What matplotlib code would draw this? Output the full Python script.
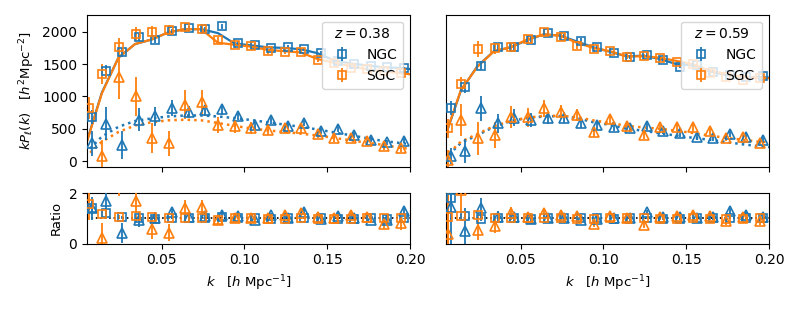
import matplotlib
matplotlib.use('Agg')
import matplotlib.pyplot as plt
from matplotlib.ticker import FormatStrFormatter

# ---------------- data ----------------
k_ngc = [0.0081, 0.0163, 0.0263, 0.0363, 0.0463, 0.0563, 0.0663, 0.0763, 0.0863, 0.0963,
         0.1063, 0.1163, 0.1263, 0.1363, 0.1463, 0.1563, 0.1663, 0.1763, 0.1863, 0.1963]
k_sgc = [0.0064, 0.0143, 0.0243, 0.0343, 0.0443, 0.0543, 0.0643, 0.0743, 0.0843, 0.0943,
         0.1043, 0.1143, 0.1243, 0.1343, 0.1443, 0.1543, 0.1643, 0.1743, 0.1843, 0.1943]
k_model = [0.004, 0.014, 0.024, 0.034, 0.044, 0.054, 0.064, 0.074, 0.084, 0.094, 0.104,
           0.114, 0.124, 0.134, 0.144, 0.154, 0.164, 0.174, 0.184, 0.194, 0.201]

# z = 0.38
P0_ngc_038 = [682, 1390, 1682, 1913, 1872, 2005, 2056, 2041, 2082, 1830, 1800, 1756, 1764, 1728, 1670, 1550, 1495, 1478, 1455, 1440]
E0_ngc_038 = [110, 90, 70, 60, 50, 45, 40, 38, 35, 32, 30, 28, 27, 26, 25, 24, 23, 22, 21, 20]
P0_sgc_038 = [826, 1349, 1769, 1964, 1995, 2026, 2067, 2041, 1872, 1800, 1780, 1697, 1690, 1690, 1563, 1511, 1447, 1420, 1395, 1370]
E0_sgc_038 = [170, 150, 140, 110, 90, 75, 65, 55, 50, 45, 42, 40, 38, 36, 34, 32, 30, 28, 27, 26]
P2_ngc_038 = [272, 580, 246, 641, 692, 820, 759, 785, 800, 700, 557, 630, 550, 590, 467, 500, 410, 333, 291, 312]
E2_ngc_038 = [200, 250, 220, 180, 150, 120, 100, 90, 80, 70, 65, 60, 55, 52, 50, 48, 46, 44, 42, 40]
P2_sgc_038 = [-400, 82, 1297, 1000, 359, 272, 872, 913, 554, 540, 513, 482, 513, 513, 423, 363, 363, 307, 227, 198]
E2_sgc_038 = [300, 250, 330, 300, 230, 200, 220, 180, 120, 100, 90, 85, 80, 75, 70, 65, 60, 58, 55, 52]
M0_ngc_038 = [230, 1060, 1600, 1810, 1880, 1990, 2040, 2040, 1980, 1820, 1790, 1760, 1750, 1730, 1670, 1560, 1510, 1480, 1450, 1440, 1420]
M0_sgc_038 = [220, 1050, 1600, 1810, 1880, 1990, 2040, 2040, 1830, 1800, 1770, 1720, 1700, 1680, 1580, 1520, 1470, 1420, 1390, 1360, 1340]
M2_ngc_038 = [120, 380, 530, 620, 660, 690, 705, 705, 690, 665, 635, 600, 565, 530, 490, 445, 400, 355, 310, 280, 260]
M2_sgc_038 = [60, 300, 450, 550, 600, 630, 640, 630, 590, 545, 505, 475, 450, 425, 395, 360, 320, 285, 250, 205, 190]
R0_ngc_038 = [1.40, 1.20, 1.04, 1.03, 0.98, 1.00, 1.00, 1.00, 1.05, 1.00, 1.00, 0.99, 1.01, 1.00, 1.00, 0.98, 0.99, 1.00, 0.97, 1.01]
RE0_ngc_038 = [0.25, 0.10, 0.05, 0.04, 0.03, 0.03, 0.02, 0.02, 0.02, 0.02, 0.02, 0.02, 0.02, 0.02, 0.02, 0.02, 0.02, 0.02, 0.02, 0.02]
R0_sgc_038 = [1.55, 1.18, 1.05, 1.08, 1.05, 1.03, 1.01, 1.00, 0.92, 1.00, 1.01, 0.99, 0.99, 1.00, 0.99, 0.99, 0.98, 1.00, 1.00, 1.01]
RE0_sgc_038 = [0.60, 0.15, 0.09, 0.06, 0.05, 0.04, 0.03, 0.03, 0.03, 0.03, 0.02, 0.02, 0.02, 0.02, 0.02, 0.02, 0.02, 0.02, 0.02, 0.02]
R2_ngc_038 = [1.40, 1.67, 0.42, 0.95, 1.02, 1.25, 1.05, 1.08, 1.15, 1.08, 0.95, 1.12, 1.00, 1.25, 0.98, 1.10, 1.02, 0.95, 0.92, 1.28]
RE2_ngc_038 = [0.45, 0.45, 0.40, 0.30, 0.22, 0.18, 0.14, 0.13, 0.12, 0.11, 0.10, 0.10, 0.10, 0.10, 0.10, 0.10, 0.11, 0.12, 0.13, 0.15]
R2_sgc_038 = [-5.0, 0.22, 2.60, 1.70, 0.58, 0.43, 1.40, 1.45, 0.95, 1.00, 1.02, 1.00, 1.12, 1.22, 1.07, 1.00, 1.12, 1.05, 0.78, 0.80]
RE2_sgc_038 = [1.0, 0.60, 0.70, 0.50, 0.38, 0.33, 0.33, 0.28, 0.20, 0.18, 0.17, 0.17, 0.17, 0.18, 0.17, 0.18, 0.18, 0.20, 0.22, 0.25]

# z = 0.59
P0_ngc_059 = [815, 1150, 1478, 1758, 1758, 1872, 1985, 1934, 1862, 1769, 1666, 1614, 1640, 1563, 1460, 1485, 1382, 1330, 1305, 1315]
E0_ngc_059 = [110, 90, 70, 55, 50, 45, 40, 38, 35, 32, 30, 28, 27, 26, 25, 24, 23, 22, 21, 20]
P0_sgc_059 = [505, 1197, 1736, 1743, 1758, 1882, 2001, 1924, 1779, 1728, 1707, 1614, 1624, 1588, 1537, 1501, 1356, 1305, 1253, 1279]
E0_sgc_059 = [150, 100, 120, 90, 75, 65, 55, 50, 45, 42, 40, 38, 36, 34, 32, 30, 28, 27, 26, 25]
P2_ngc_059 = [80, 157, 815, 583, 668, 634, 668, 668, 588, 557, 526, 505, 536, 467, 428, 380, 351, 415, 376, 325]
E2_ngc_059 = [120, 180, 190, 150, 130, 110, 95, 85, 75, 70, 65, 60, 56, 52, 50, 48, 46, 44, 42, 40]
P2_sgc_059 = [15, 634, 350, 402, 686, 675, 815, 763, 711, 454, 652, 549, 402, 526, 526, 526, 462, 358, 376, 286]
E2_sgc_059 = [150, 250, 250, 200, 170, 150, 130, 110, 90, 80, 75, 70, 65, 62, 60, 58, 55, 52, 50, 48]
M0_ngc_059 = [340, 1090, 1470, 1700, 1760, 1870, 1960, 1940, 1850, 1760, 1690, 1620, 1630, 1580, 1500, 1480, 1390, 1330, 1300, 1300, 1290]
M0_sgc_059 = [350, 1100, 1460, 1700, 1760, 1880, 1960, 1940, 1830, 1750, 1700, 1620, 1620, 1600, 1550, 1500, 1400, 1350, 1300, 1290, 1280]
M2_ngc_059 = [30, 280, 400, 530, 620, 665, 690, 695, 665, 600, 560, 500, 470, 430, 395, 360, 330, 295, 260, 230, 215]
M2_sgc_059 = [60, 300, 420, 540, 620, 670, 700, 700, 680, 630, 590, 545, 520, 500, 470, 435, 395, 360, 330, 300, 290]
R0_ngc_059 = [1.80, 1.08, 0.97, 1.02, 1.00, 0.99, 1.01, 1.00, 1.02, 1.00, 0.98, 1.00, 1.00, 0.98, 0.97, 1.00, 1.00, 1.00, 1.00, 1.02]
RE0_ngc_059 = [0.25, 0.10, 0.06, 0.04, 0.03, 0.03, 0.02, 0.02, 0.02, 0.02, 0.02, 0.02, 0.02, 0.02, 0.02, 0.02, 0.02, 0.02, 0.02, 0.02]
R0_sgc_059 = [1.06, 1.08, 1.14, 1.02, 1.00, 1.00, 1.02, 1.00, 0.97, 0.98, 1.00, 1.00, 1.00, 0.99, 0.99, 1.00, 0.97, 0.97, 0.96, 1.00]
RE0_sgc_059 = [1.50, 0.10, 0.08, 0.06, 0.05, 0.04, 0.03, 0.03, 0.03, 0.03, 0.02, 0.02, 0.02, 0.02, 0.02, 0.02, 0.02, 0.02, 0.02, 0.02]
R2_ngc_059 = [1.45, 0.49, 1.41, 1.05, 1.05, 0.98, 1.00, 1.00, 0.95, 0.98, 1.00, 1.00, 1.24, 1.05, 1.05, 1.00, 1.05, 1.28, 1.12, 1.05]
RE2_ngc_059 = [3.0, 0.90, 0.40, 0.25, 0.20, 0.17, 0.14, 0.13, 0.12, 0.11, 0.11, 0.10, 0.10, 0.10, 0.10, 0.11, 0.11, 0.12, 0.13, 0.14]
R2_sgc_059 = [0.40, 2.10, 0.55, 0.71, 1.20, 1.05, 1.20, 1.12, 1.08, 0.78, 1.10, 1.00, 0.75, 1.05, 1.10, 1.15, 1.10, 0.88, 1.05, 0.90]
RE2_sgc_059 = [3.0, 0.90, 0.40, 0.30, 0.25, 0.20, 0.18, 0.16, 0.14, 0.13, 0.13, 0.12, 0.12, 0.12, 0.12, 0.13, 0.13, 0.14, 0.15, 0.16]

redshifts = ['0.38', '0.59']
caps = ['NGC', 'SGC']
colors = ['#1f77b4', '#ff7f0e']
xticks = [0.05, 0.10, 0.15, 0.20]

panels = [
    {'z': redshifts[0],
     'NGC': (k_ngc, P0_ngc_038, E0_ngc_038, P2_ngc_038, E2_ngc_038, M0_ngc_038, M2_ngc_038,
             R0_ngc_038, RE0_ngc_038, R2_ngc_038, RE2_ngc_038),
     'SGC': (k_sgc, P0_sgc_038, E0_sgc_038, P2_sgc_038, E2_sgc_038, M0_sgc_038, M2_sgc_038,
             R0_sgc_038, RE0_sgc_038, R2_sgc_038, RE2_sgc_038)},
    {'z': redshifts[1],
     'NGC': (k_ngc, P0_ngc_059, E0_ngc_059, P2_ngc_059, E2_ngc_059, M0_ngc_059, M2_ngc_059,
             R0_ngc_059, RE0_ngc_059, R2_ngc_059, RE2_ngc_059),
     'SGC': (k_sgc, P0_sgc_059, E0_sgc_059, P2_sgc_059, E2_sgc_059, M0_sgc_059, M2_sgc_059,
             R0_sgc_059, RE0_sgc_059, R2_sgc_059, RE2_sgc_059)},
]

# ---------------- figure ----------------
fig = plt.figure(figsize=(8, 3.1), dpi=100)
lefts = [0.10875, 0.5575]
W = 0.40375
ms, mew, elw = 6, 1.2, 1.3

for i, p in enumerate(panels):
    ax = fig.add_axes([lefts[i], 0.461, W, 0.492])
    axr = fig.add_axes([lefts[i], 0.2139, W, 0.1635])
    axr.axhline(1, color='k', ls=':', lw=1.2, zorder=1)
    handles = []
    for cap, c in zip(caps, colors):
        k, P0, E0, P2, E2, M0, M2, R0, RE0, R2, RE2 = p[cap]
        ax.plot(k_model, M0, '-', color=c, lw=1.6, zorder=2)
        ax.plot(k_model, M2, ':', color=c, lw=1.8, zorder=2)
        h = ax.errorbar(k, P0, yerr=E0, fmt='s', mfc='none', mec=c, color=c,
                        ms=ms, mew=mew, elinewidth=elw, capsize=0, label=cap, zorder=3)
        ax.errorbar(k, P2, yerr=E2, fmt='^', mfc='none', mec=c, color=c,
                    ms=ms + 0.5, mew=mew, elinewidth=elw, capsize=0, zorder=3)
        axr.errorbar(k, R0, yerr=RE0, fmt='s', mfc='none', mec=c, color=c,
                     ms=ms, mew=mew, elinewidth=elw, capsize=0, zorder=3)
        axr.errorbar(k, R2, yerr=RE2, fmt='^', mfc='none', mec=c, color=c,
                     ms=ms + 0.5, mew=mew, elinewidth=elw, capsize=0, zorder=3)
        handles.append(h)

    for a in (ax, axr):
        a.set_xlim(0.005, 0.2)
        a.set_xticks(xticks)
        a.tick_params(labelsize=10)
    ax.set_ylim(-93, 2266)
    ax.set_xticklabels([])
    axr.set_ylim(0, 2)
    axr.set_yticks([0, 2])
    axr.xaxis.set_major_formatter(FormatStrFormatter('%.2f'))
    axr.set_xlabel(r'$k\quad[h\ \mathrm{Mpc}^{-1}]$', fontsize=9.5)
    if i == 0:
        ax.set_yticks([0, 500, 1000, 1500, 2000])
        ax.set_ylabel(r'$kP_\ell(k)\quad[h^2\mathrm{Mpc}^{-2}]$', fontsize=9.5)
        axr.set_ylabel('Ratio', fontsize=9.5)
    else:
        ax.set_yticks([])
        axr.set_yticks([])
    leg = ax.legend(handles=handles, title=r'$z = %s$' % p['z'], loc='upper right',
                    fontsize=10, title_fontsize=10)

fig.savefig('out.png', dpi=100)
